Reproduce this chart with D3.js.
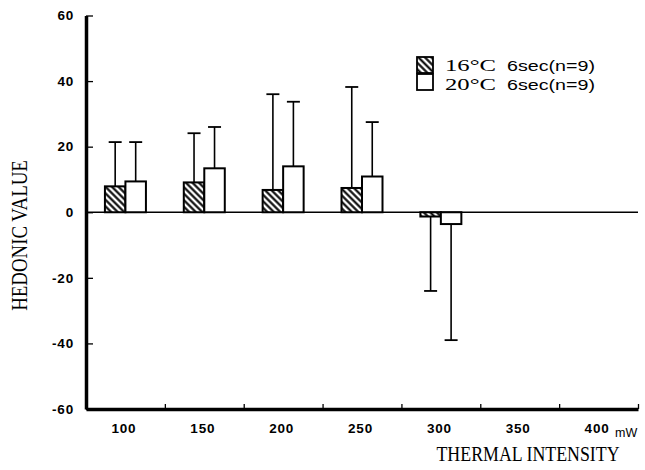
<!DOCTYPE html>
<html><head><meta charset="utf-8">
<script src="https://cdn.jsdelivr.net/npm/d3@7"></script>
<style>body{margin:0;background:#fff}</style>
</head><body><svg id="c" width="645" height="470"></svg>
<script>
// ---- data ----
const categories = [100, 150, 200, 250, 300, 350, 400];
const seriesNames = ["16°C", "20°C"];
const seriesSuffix = ["6sec(n=9)", "6sec(n=9)"];
const mean16 = [7.9, 9.1, 6.8, 7.4, -1.3, null, null];
const mean20 = [9.4, 13.4, 14.0, 10.9, -3.6, null, null];
const sd16 = [13.5, 15.0, 29.2, 30.8, 22.7, null, null];
const sd20 = [12.0, 12.6, 19.7, 16.6, 35.4, null, null];
const yTicks = [60, 40, 20, 0, -20, -40, -60];
const xTicks = [125, 175, 225, 275, 325, 375, 425];
const xTitle = "THERMAL INTENSITY";
const yTitle = "HEDONIC VALUE";
const xUnit = "mW";

const svg = d3.select("#c");
const defs = svg.append("defs");
const pat = defs.append("pattern").attr("id", "hatch")
  .attr("patternUnits", "userSpaceOnUse").attr("width", 4.6).attr("height", 10)
  .attr("patternTransform", "rotate(-45)");
pat.append("rect").attr("width", 4.6).attr("height", 10).attr("fill", "#fff");
pat.append("line").attr("x1", 2.3).attr("x2", 2.3).attr("y1", 0).attr("y2", 10)
  .attr("stroke", "#000").attr("stroke-width", 2.1);

const x = d3.scaleLinear().domain([75, 425]).range([86, 638]);
const y = d3.scaleLinear().domain([-60, 60]).range([409, 15.5]);
const bw = 20.5;

// y axis
const ya = svg.append("g").attr("transform", `translate(${x(75)},0)`)
  .call(d3.axisLeft(y).tickValues(yTicks).tickSizeInner(-7).tickSizeOuter(0).tickPadding(12)
    .tickFormat(d => d));
ya.select(".domain").attr("stroke-width", 3.5).attr("stroke", "#000");
ya.selectAll(".tick line").attr("stroke-width", 1.3);
ya.selectAll(".tick text").attr("font-family", "Liberation Sans, Arial, sans-serif")
  .attr("font-weight", "bold").attr("font-size", 13.5).attr("letter-spacing", 0.8).attr("fill", "#000");

// x axis (ticks)
const xa = svg.append("g").attr("transform", `translate(0,${y(-60)})`)
  .call(d3.axisBottom(x).tickValues(xTicks).tickSizeInner(-5).tickSizeOuter(0).tickFormat(""));
xa.select(".domain").attr("stroke-width", 3.5).attr("stroke", "#000");
xa.selectAll(".tick line").attr("stroke-width", 1.3);

// x axis (labels)
const xl = svg.append("g").attr("transform", `translate(0,${y(-60)})`)
  .call(d3.axisBottom(x).tickValues(categories).tickSize(0).tickPadding(14.5).tickFormat(d => d));
xl.select(".domain").remove();
xl.selectAll(".tick text").attr("font-family", "Liberation Sans, Arial, sans-serif")
  .attr("font-weight", "bold").attr("font-size", 13.5).attr("letter-spacing", 0.8)
  .attr("dx", -2).attr("fill", "#000");

// zero line
svg.append("line").attr("x1", x(75)).attr("x2", x(425)).attr("y1", y(0)).attr("y2", y(0))
  .attr("stroke", "#000").attr("stroke-width", 1.6);

// bars & error bars
const series = [
  {means: mean16, sds: sd16, fill: "url(#hatch)", off: -bw},
  {means: mean20, sds: sd20, fill: "#fff", off: 0}
];
series.forEach(s => {
  const pts = categories.map((c, i) => ({c, m: s.means[i], sd: s.sds[i]})).filter(d => d.m !== null);
  const g = svg.append("g");
  pts.forEach(d => {
    const cx = x(d.c) + s.off + bw / 2;
    const sign = d.m >= 0 ? 1 : -1;
    const end = d.m + sign * d.sd;
    g.append("line").attr("x1", cx).attr("x2", cx).attr("y1", y(d.m)).attr("y2", y(end))
      .attr("stroke", "#000").attr("stroke-width", 1.6);
    g.append("line").attr("x1", cx - 6.5).attr("x2", cx + 6.5).attr("y1", y(end)).attr("y2", y(end))
      .attr("stroke", "#000").attr("stroke-width", 1.8);
  });
  g.selectAll("rect").data(pts).join("rect")
    .attr("x", d => x(d.c) + s.off)
    .attr("y", d => y(Math.max(0, d.m)))
    .attr("width", bw)
    .attr("height", d => Math.abs(y(d.m) - y(0)))
    .attr("fill", s.fill).attr("stroke", "#000").attr("stroke-width", 2);
});

// legend
const lg = svg.append("g");
[0, 1].forEach(i => {
  const top = 57 + i * 17;
  const base = 71 + i * 19;
  lg.append("rect").attr("x", 417).attr("y", top).attr("width", 16).attr("height", 16)
    .attr("fill", i === 0 ? "url(#hatch)" : "#fff").attr("stroke", "#000").attr("stroke-width", 1.8);
  lg.append("text").attr("x", 445).attr("y", base).text(seriesNames[i])
    .attr("font-family", "Liberation Serif, Times New Roman, serif").attr("font-size", 17)
    .attr("textLength", 51).attr("lengthAdjust", "spacingAndGlyphs");
  lg.append("text").attr("x", 507).attr("y", base).text(seriesSuffix[i])
    .attr("font-family", "Liberation Sans, Arial, sans-serif").attr("font-size", 15.5)
    .attr("textLength", 88).attr("lengthAdjust", "spacingAndGlyphs");
});

// titles
svg.append("text").attr("transform", "translate(27,235.5) rotate(-90) scale(0.82,1)").attr("text-anchor", "middle")
  .text(yTitle).attr("font-family", "Liberation Serif, Times New Roman, serif").attr("font-size", 23);
svg.append("text").attr("transform", "translate(528,461) scale(0.85,1)").attr("text-anchor", "middle").text(xTitle)
  .attr("font-family", "Liberation Serif, Times New Roman, serif").attr("font-size", 21);
svg.append("text").attr("x", 615).attr("y", 436.5).text(xUnit)
  .attr("font-family", "Liberation Sans, Arial, sans-serif").attr("font-size", 12.5);
</script></body></html>
